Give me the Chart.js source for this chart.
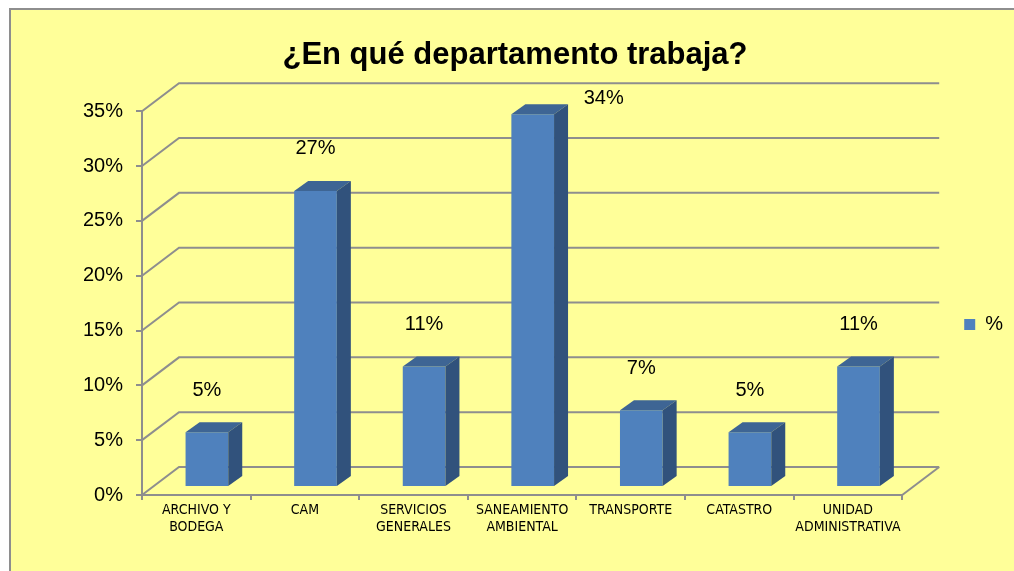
<!DOCTYPE html>
<html>
<head>
  <meta charset="UTF-8">
  <title>¿En qué departamento trabaja?</title>
  <script src="https://cdn.jsdelivr.net/npm/chart.js@4.4.1/dist/chart.umd.min.js"></script>
  <style>
    body {
      margin: 0;
      padding: 0;
      background-color: #ffffff;
      overflow: hidden;
    }

    #caja {
      width: 1014px;
      height: 571px;
    }
  </style>
</head>
<body>
  <div id="caja">
    <canvas id="grafico"></canvas>
  </div>

  <script>
    // Datos del gráfico
    const categorias = [
      ['ARCHIVO Y', 'BODEGA'],
      'CAM',
      ['SERVICIOS', 'GENERALES'],
      ['SANEAMIENTO', 'AMBIENTAL'],
      'TRANSPORTE',
      'CATASTRO',
      ['UNIDAD', 'ADMINISTRATIVA']
    ];
    const valores = [0.05, 0.27, 0.11, 0.34, 0.07, 0.05, 0.11];
    const marcasY = [0, 0.05, 0.10, 0.15, 0.20, 0.25, 0.30, 0.35];

    const fuente = "'Liberation Sans', Arial, sans-serif";
    const gris = '#8e8e8e';

    // profundidad de las paredes y de las barras
    const fondo = { dx: 37, dy: -28 };
    const desplazo = { dx: 10.6, dy: -8 };
    const prof = { dx: 14, dy: -10 };

    const pct = v => Math.round(v * 100) + '%';

    const efecto3d = {
      id: 'efecto3d',
      beforeDraw(chart) {
        const ctx = chart.ctx;
        ctx.save();
        ctx.fillStyle = '#ffffff';
        ctx.fillRect(0, 0, chart.width, chart.height);
        ctx.fillStyle = '#ffff99';
        ctx.fillRect(10, 9, chart.width, chart.height);
        ctx.strokeStyle = gris;
        ctx.lineWidth = 2;
        ctx.strokeRect(10, 9, chart.width + 10, chart.height + 10);
        ctx.restore();
      },
      beforeDatasetsDraw(chart) {
        const ctx = chart.ctx;
        const a = chart.chartArea;
        const y = chart.scales.y;

        // paredes: lineas de division en diagonal y al fondo
        ctx.save();
        ctx.strokeStyle = gris;
        ctx.lineWidth = 2;
        marcasY.forEach(v => {
          const py = y.getPixelForValue(v);
          ctx.beginPath();
          ctx.moveTo(a.left, py);
          ctx.lineTo(a.left + fondo.dx, py + fondo.dy);
          ctx.lineTo(a.right + fondo.dx, py + fondo.dy);
          ctx.stroke();
        });
        ctx.beginPath();
        ctx.moveTo(a.right, a.bottom);
        ctx.lineTo(a.right + fondo.dx, a.bottom + fondo.dy);
        ctx.stroke();
        ctx.restore();

        // las barras se dibujan algo hacia el fondo
        ctx.save();
        ctx.translate(desplazo.dx, desplazo.dy);
      },
      afterDatasetsDraw(chart) {
        const ctx = chart.ctx;
        const meta = chart.getDatasetMeta(0);

        meta.data.forEach(bar => {
          const p = bar.getProps(['x', 'y', 'width', 'base'], true);
          const L = p.x - p.width / 2;
          const R = p.x + p.width / 2;

          ctx.fillStyle = '#3e6594';
          ctx.beginPath();
          ctx.moveTo(L, p.y);
          ctx.lineTo(L + prof.dx, p.y + prof.dy);
          ctx.lineTo(R + prof.dx, p.y + prof.dy);
          ctx.lineTo(R, p.y);
          ctx.closePath();
          ctx.fill();

          ctx.fillStyle = '#31527c';
          ctx.beginPath();
          ctx.moveTo(R, p.y);
          ctx.lineTo(R + prof.dx, p.y + prof.dy);
          ctx.lineTo(R + prof.dx, p.base + prof.dy);
          ctx.lineTo(R, p.base);
          ctx.closePath();
          ctx.fill();
        });
        ctx.restore();

        // etiquetas de valor
        ctx.save();
        ctx.font = '20px ' + fuente;
        ctx.fillStyle = '#000000';
        ctx.textAlign = 'center';
        ctx.textBaseline = 'middle';
        meta.data.forEach((bar, i) => {
          const p = bar.getProps(['x', 'y'], true);
          let lx = p.x + desplazo.dx;
          let ly = p.y + desplazo.dy - 42;
          if (ly < chart.chartArea.top) {
            lx += 71;
            ly = p.y + desplazo.dy - 16;
          }
          ctx.fillText(pct(valores[i]), lx, ly);
        });
        ctx.restore();
      }
    };

    new Chart(document.getElementById('grafico'), {
      type: 'bar',
      data: {
        labels: categorias,
        datasets: [{
          label: '%',
          data: valores,
          backgroundColor: '#4f81bd',
          borderWidth: 0,
          barPercentage: 0.393,
          categoryPercentage: 1
        }]
      },
      options: {
        responsive: true,
        maintainAspectRatio: false,
        animation: false,
        layout: {
          padding: { left: 17, right: 1, top: 0, bottom: 16 }
        },
        plugins: {
          tooltip: { enabled: false },
          title: {
            display: true,
            text: '¿En qué departamento trabaja?',
            color: '#000000',
            font: { family: fuente, size: 31, weight: 'bold' },
            padding: { top: 37, bottom: 37 }
          },
          legend: {
            position: 'right',
            title: {
              display: true,
              text: '',
              font: { size: 10 },
              padding: { top: 82, bottom: 0 }
            },
            labels: {
              boxWidth: 11,
              boxHeight: 11,
              padding: 62,
              color: '#000000',
              font: { family: fuente, size: 20 }
            }
          }
        },
        scales: {
          x: {
            offset: true,
            afterFit(scale) { scale.height = 60; },
            border: { display: true, color: gris, width: 2 },
            grid: {
              offset: true,
              drawOnChartArea: false,
              color: gris,
              lineWidth: 2,
              tickLength: 5
            },
            ticks: {
              color: '#000000',
              padding: 2,
              maxRotation: 0,
              autoSkip: false,
              font: { family: "'Liberation Sans Narrow', 'DejaVu Sans Condensed', Arial, sans-serif", size: 14, lineHeight: 1.2 }
            }
          },
          y: {
            min: 0,
            max: 0.35,
            afterFit(scale) { scale.width = 125; },
            border: { display: true, color: gris, width: 2 },
            grid: {
              drawOnChartArea: false,
              color: gris,
              lineWidth: 2,
              tickLength: 6
            },
            ticks: {
              stepSize: 0.05,
              color: '#000000',
              padding: 13,
              font: { family: fuente, size: 20 },
              callback: v => pct(v)
            }
          }
        }
      },
      plugins: [efecto3d]
    });
  </script>
</body>
</html>
